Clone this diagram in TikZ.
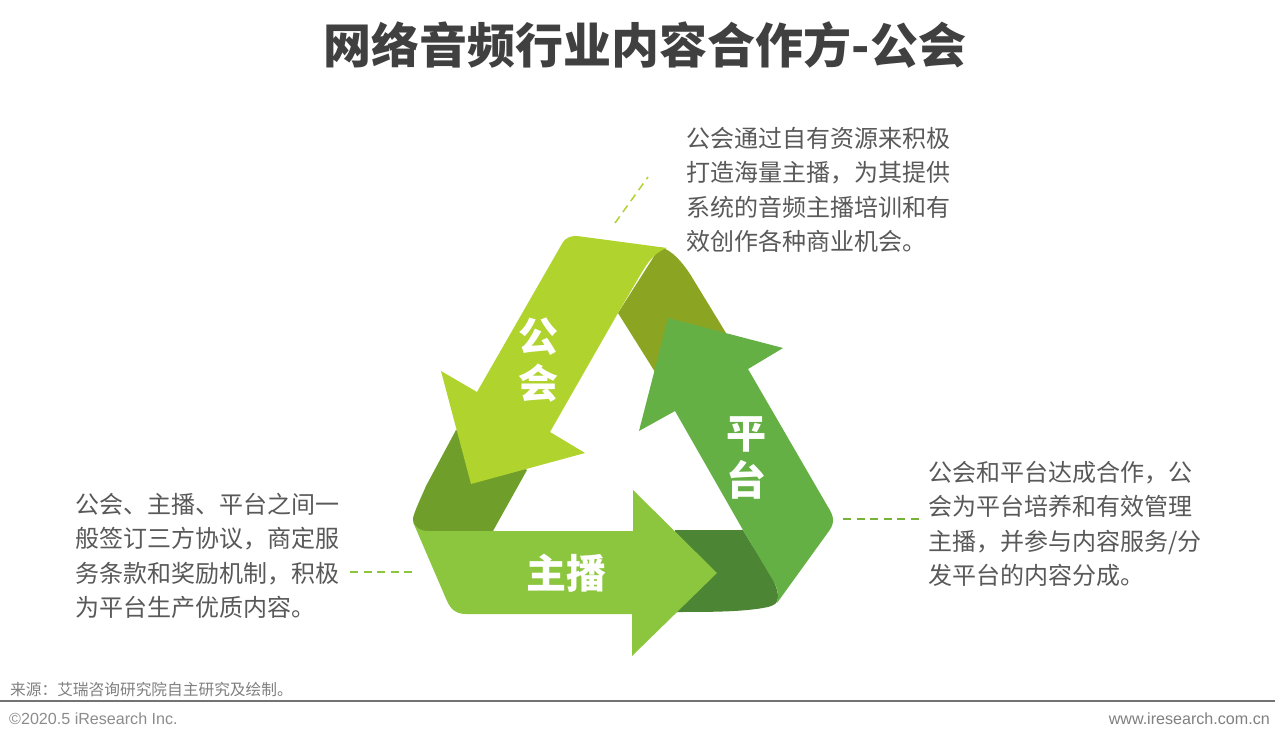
\documentclass[tikz,border=0pt]{standalone}
\usepackage{fontspec}
\setmainfont{Noto Sans CJK SC}
\newfontfamily\latinfont{Liberation Sans}
\definecolor{cTop}{HTML}{B0D32E}
\definecolor{cMain}{HTML}{8CC63E}
\definecolor{cPlat}{HTML}{65B045}
\definecolor{fTop}{HTML}{8BA523}
\definecolor{fLeft}{HTML}{6F9E2B}
\definecolor{fRight}{HTML}{4C8534}
\definecolor{cBody}{HTML}{595959}
\definecolor{cTitle}{HTML}{404040}
\tikzset{
  bodytext/.style={anchor=north west,inner sep=0pt,align=left,text=cBody,font=\fontsize{24}{34.5}\selectfont},
  ribbonlabel/.style={inner sep=0pt,text=white,font=\fontsize{40}{46}\selectfont\bfseries,align=center},
  leader/.style={dash pattern=on 8pt off 5.5pt,line width=1.5pt},
}
\begin{document}
\begin{tikzpicture}[x=1pt,y=-1pt]
\useasboundingbox (0,0) rectangle (1280,743);
\fill[white] (0,0) rectangle (1280,743);
% folds
\fill[fTop] (660,247) .. controls (672,250) and (682,262) .. (690,274) -- (726,333) -- (655,372) -- (618,313) -- cycle;
\fill[fLeft] (456,430) -- (527,470) -- (493,531) -- (425,531) .. controls (417,531) and (413,526) .. (413,518) .. controls (415,510) and (420,500) .. (426,486) -- cycle;
\fill[fRight] (675,530) -- (743,530) .. controls (757,555) and (778,580) .. (778,597) .. controls (778,603) and (775,605) .. (768,607) .. controls (745,612) and (710,612) .. (675,612) -- cycle;
% arrows
\fill[cTop] (477,392) -- (563,242) .. controls (567,237) and (571,236) .. (577,236) -- (667,248) .. controls (655,252) and (648,262) .. (642,272) -- (618,313) -- (550,432) -- (585,453) -- (471,484) -- (441,371) -- cycle;
\fill[cMain] (413,522) .. controls (416,528) and (420,531) .. (428,531) -- (633,531) -- (633,490) -- (717,573) -- (632,656) -- (632,614) -- (466,614) .. controls (457,614) and (451,610) .. (447,601) -- cycle;
\fill[cPlat] (668,318) -- (783,348) -- (748,369) -- (828,507) .. controls (834,516) and (835,523) .. (829,531) -- (777,603) .. controls (779,596) and (778,590) .. (774,582) -- (743,530) -- (675,411) -- (639,431) -- cycle;
% ribbon labels
\node[ribbonlabel] (lblGuild) at (538,360) {公\\[1pt]会};
\node[ribbonlabel] (lblAnchor) at (566,573) {主播};
\node[ribbonlabel] (lblPlat) at (746,458) {平\\[1pt]台};
% title
\node[inner sep=0pt,text=cTitle,font=\fontsize{48}{52}\selectfont\bfseries] (title) at (645,45) {网络音频行业内容合作方-公会};
% body text
\node[bodytext] (tTop) at (686,127) {公会通过自有资源来积极\\打造海量主播，为其提供\\系统的音频主播培训和有\\效创作各种商业机会。};
\node[bodytext] (tRight) at (928,461) {公会和平台达成合作，公\\会为平台培养和有效管理\\主播，并参与内容服务/分\\发平台的内容分成。};
\node[bodytext] (tLeft) at (75,493) {公会、主播、平台之间一\\般签订三方协议，商定服\\务条款和奖励机制，积极\\为平台生产优质内容。};
% leaders
\coordinate (a1) at (615,223); \coordinate (a2) at (648,177);
\coordinate (b1) at (843,519); \coordinate (b2) at (920,519);
\coordinate (c1) at (350,572); \coordinate (c2) at (412,572);
\draw[leader,draw=cTop] (a1) -- (a2);
\draw[leader,draw=cMain!70!fRight] (b1) -- (b2);
\draw[leader,draw=cMain] (c1) -- (c2);
% footer
\node[anchor=west,inner sep=0pt,text=black!50,font=\fontsize{15.7}{20}\selectfont] (src) at (10,690) {来源：艾瑞咨询研究院自主研究及绘制。};
\coordinate (r1) at (0,701); \coordinate (r2) at (1275,701);
\draw[line width=2pt,draw=black!55] (r1) -- (r2);
\node[anchor=west,inner sep=0pt,text=black!45,font=\latinfont\fontsize{16.1}{18}\selectfont] (copy) at (9,719) {©2020.5 iResearch Inc.};
\node[anchor=east,inner sep=0pt,text=black!50,font=\latinfont\fontsize{16.1}{18}\selectfont] (web) at (1270,719) {www.iresearch.com.cn};
\end{tikzpicture}
\end{document}
